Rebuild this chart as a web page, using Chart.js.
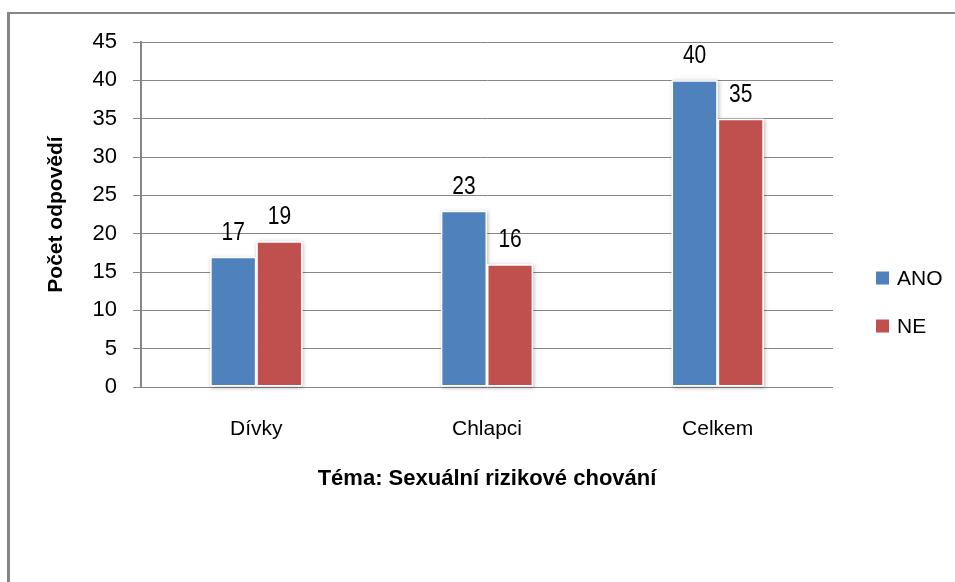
<!DOCTYPE html>
<html><head><meta charset="utf-8">
<script src="https://cdn.jsdelivr.net/npm/chart.js@4/dist/chart.umd.min.js"></script>
<style>
html,body{margin:0;padding:0;background:#fff;}
#wrap{position:relative;width:955px;height:582px;overflow:hidden;}
#frame{position:absolute;left:7px;top:12px;width:1000px;height:1000px;border-left:3px solid #868686;border-top:2px solid #868686;box-sizing:border-box;}
canvas{position:absolute;left:0;top:0;}
</style></head><body>
<div id="wrap"><div id="frame"></div><canvas id="c" width="955" height="582"></canvas></div>
<script>
const categories = ['Dívky', 'Chlapci', 'Celkem'];
const seriesNames = ['ANO', 'NE'];
const anoValues = [17, 23, 40];
const neValues = [19, 16, 35];
const yTicks = [0, 5, 10, 15, 20, 25, 30, 35, 40, 45];
const yAxisTitle = 'Počet odpovědí';
const xAxisTitle = 'Téma: Sexuální rizikové chování';
const colors = ['#4F81BD', '#C0504D'];

const FONT = "'Liberation Sans', Arial, sans-serif";
const GRID = '#868686';

const shadowPlugin = {
  id: 'barShadow',
  beforeDatasetsDraw(chart) {
    const ctx = chart.ctx;
    chart.data.datasets.forEach((ds, i) => {
      const meta = chart.getDatasetMeta(i);
      meta.data.forEach(bar => {
        const p = bar.getProps(['x', 'y', 'base', 'width'], true);
        ctx.save();
        ctx.shadowColor = 'rgba(0,0,0,0.28)';
        ctx.shadowBlur = 4;
        ctx.shadowOffsetX = 1;
        ctx.shadowOffsetY = 1;
        ctx.fillStyle = '#ffffff';
        ctx.fillRect(p.x - p.width / 2, p.y, p.width, p.base - p.y);
        ctx.restore();
      });
    });
  }
};

const labelPlugin = {
  id: 'valueLabels',
  afterDatasetsDraw(chart) {
    const ctx = chart.ctx;
    chart.data.datasets.forEach((ds, i) => {
      const meta = chart.getDatasetMeta(i);
      meta.data.forEach((bar, j) => {
        ctx.save();
        ctx.translate(bar.x, bar.y - 24);
        ctx.scale(1, 1.2);
        ctx.font = '21px ' + FONT;
        ctx.fillStyle = '#000';
        ctx.textAlign = 'center';
        ctx.textBaseline = 'middle';
        ctx.fillText(String(ds.data[j]), 0, 0);
        ctx.restore();
      });
    });
  }
};

const legendPlugin = {
  id: 'sideLegend',
  afterDraw(chart) {
    const ctx = chart.ctx;
    const area = chart.chartArea;
    const x0 = area.right + 43;
    const y0 = 278;
    ctx.save();
    chart.data.datasets.forEach((ds, i) => {
      const cy = y0 + i * 48;
      ctx.fillStyle = ds.backgroundColor;
      ctx.fillRect(x0, cy - 6.5, 13, 13);
      ctx.fillStyle = '#000';
      ctx.font = '21px ' + FONT;
      ctx.textAlign = 'left';
      ctx.textBaseline = 'middle';
      ctx.fillText(ds.label, x0 + 21, cy + 1);
    });
    ctx.restore();
  }
};

new Chart(document.getElementById('c'), {
  type: 'bar',
  data: {
    labels: categories,
    datasets: [
      { label: seriesNames[0], data: anoValues, backgroundColor: colors[0] },
      { label: seriesNames[1], data: neValues, backgroundColor: colors[1] }
    ]
  },
  options: {
    responsive: false,
    animation: false,
    devicePixelRatio: 1,
    layout: { padding: { left: 0, top: 42, right: 122, bottom: 90 } },
    datasets: {
      bar: {
        categoryPercentage: 0.4,
        barPercentage: 1.0,
        borderColor: '#ffffff',
        borderWidth: 1.5,
        borderSkipped: false
      }
    },
    plugins: {
      legend: { display: false },
      tooltip: { enabled: false }
    },
    scales: {
      x: {
        grid: { display: false, drawTicks: false, tickLength: 0 },
        border: { display: false },
        ticks: { color: '#000', padding: 30, font: { family: FONT, size: 21 } },
        title: { display: true, text: xAxisTitle, color: '#000', padding: { top: 0, bottom: 0 },
                 font: { family: FONT, size: 22, weight: 'bold' } },
        afterFit(scale) { scale.height = 105; }
      },
      y: {
        min: yTicks[0],
        max: yTicks[yTicks.length - 1],
        ticks: { stepSize: yTicks[1] - yTicks[0], color: '#000', padding: 16, font: { family: FONT, size: 22 } },
        grid: { color: GRID, lineWidth: 1, tickLength: 8 },
        border: { display: true, color: GRID, width: 2 },
        title: { display: true, text: yAxisTitle, color: '#000', padding: { top: 44, bottom: 0 },
                 font: { family: FONT, size: 21, weight: 'bold' } },
        afterFit(scale) { scale.width = 141; }
      }
    }
  },
  plugins: [shadowPlugin, labelPlugin, legendPlugin]
});
</script>
</body></html>
